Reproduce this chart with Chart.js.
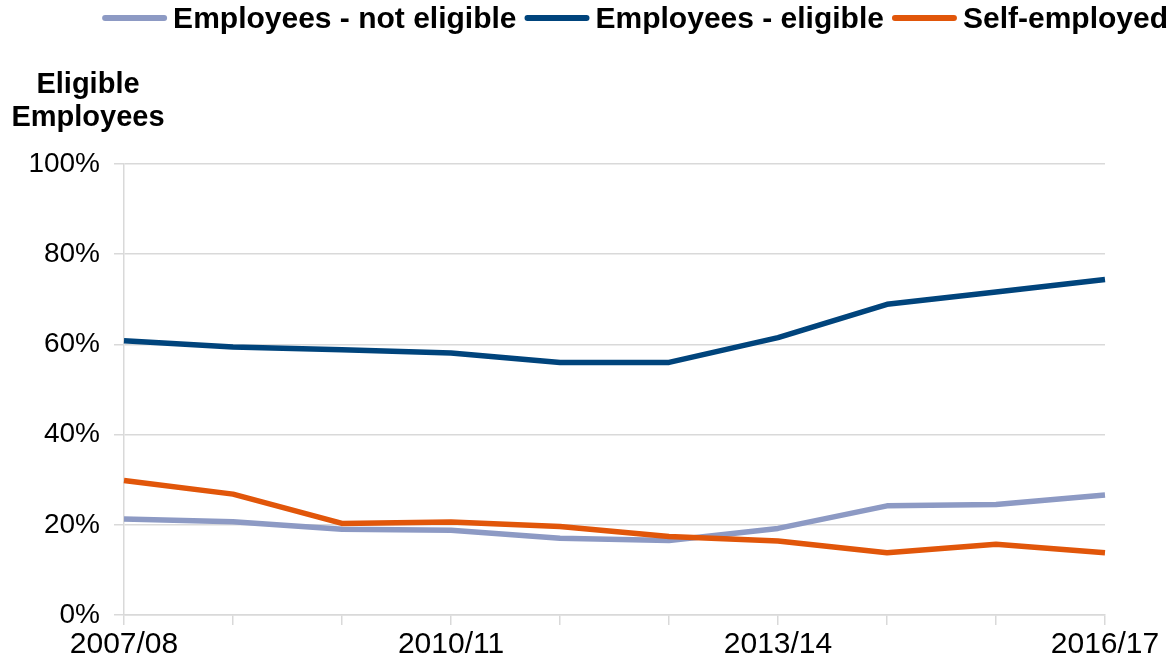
<!DOCTYPE html>
<html>
<head>
<meta charset="utf-8">
<script src="https://cdn.jsdelivr.net/npm/chart.js@4"></script>
<style>
  body { margin: 0; background: #fff; }
  #wrap { width: 1172px; height: 666px; }
</style>
</head>
<body>
<div id="wrap"><canvas id="myChart" width="1172" height="666"></canvas></div>
<script>
const years = ['2007/08', '2008/09', '2009/10', '2010/11', '2011/12', '2012/13', '2013/14', '2014/15', '2015/16', '2016/17'];
const notEligible = [21.3, 20.7, 19.0, 18.8, 17.0, 16.5, 19.2, 24.2, 24.5, 26.6];
const eligible = [60.8, 59.4, 58.8, 58.1, 56.0, 56.0, 61.5, 68.9, 71.6, 74.4];
const selfEmployed = [29.8, 26.8, 20.3, 20.6, 19.6, 17.4, 16.4, 13.8, 15.7, 13.8];
const yTicks = [0, 20, 40, 60, 80, 100];

const fontName = "'Liberation Sans', Arial, sans-serif";

// legend line + text, and the two-line axis heading top left
const extras = {
  id: 'extras',
  afterDraw(chart) {
    const ctx = chart.ctx;
    ctx.save();
    ctx.font = 'bold 30px ' + fontName;
    ctx.textBaseline = 'alphabetic';
    ctx.textAlign = 'left';
    const items = chart.data.datasets.map(d => ({ text: d.label, color: d.borderColor, w: ctx.measureText(d.label).width }));
    const lineLen = 65, gapIn = 6, gapOut = 8;
    let total = 0;
    items.forEach((it, i) => { total += lineLen + gapIn + it.w + (i < items.length - 1 ? gapOut : 0); });
    let x = 1168 - total;
    items.forEach(it => {
      ctx.strokeStyle = it.color;
      ctx.lineWidth = 6;
      ctx.lineCap = 'round';
      ctx.beginPath();
      ctx.moveTo(x + 3, 18);
      ctx.lineTo(x + lineLen - 3, 18);
      ctx.stroke();
      ctx.fillStyle = '#000';
      ctx.fillText(it.text, x + lineLen + gapIn, 28);
      x += lineLen + gapIn + it.w + gapOut;
    });

    ctx.font = 'bold 29px ' + fontName;
    ctx.textAlign = 'center';
    ctx.fillText('Eligible', 88, 93);
    ctx.fillText('Employees', 88, 126);
    ctx.restore();
  }
};

new Chart(document.getElementById('myChart'), {
  type: 'line',
  data: {
    labels: years,
    datasets: [
      { label: 'Employees - not eligible', data: notEligible, borderColor: '#8D9AC4', order: 2 },
      { label: 'Employees - eligible', data: eligible, borderColor: '#00447C', order: 1 },
      { label: 'Self-employed', data: selfEmployed, borderColor: '#E1560A', order: 0 }
    ].map(d => Object.assign(d, {
      borderWidth: 5.5,
      pointRadius: 0,
      tension: 0,
      fill: false,
      borderJoinStyle: 'round',
      backgroundColor: d.borderColor
    }))
  },
  options: {
    responsive: false,
    animation: false,
    layout: { padding: { top: 164, right: 67, left: 0, bottom: 0 } },
    plugins: {
      legend: { display: false },
      tooltip: { enabled: false }
    },
    scales: {
      x: {
        afterFit(s) { s.height = 51; },
        grid: { drawOnChartArea: false, drawTicks: true, tickLength: 10, color: '#d9d9d9', lineWidth: 1.5 },
        border: { color: '#d9d9d9', width: 1.5 },
        ticks: {
          autoSkip: false,
          maxRotation: 0,
          padding: 2,
          color: '#000',
          font: { family: fontName, size: 30 },
          callback: (v, i) => (i % 3 === 0 ? years[i] : '')
        }
      },
      y: {
        min: 0,
        max: 100,
        afterFit(s) { s.width = 124; },
        afterBuildTicks(s) { s.ticks = yTicks.map(v => ({ value: v })); },
        grid: { color: '#d9d9d9', lineWidth: 1.5, tickLength: 10 },
        border: { color: '#d9d9d9', width: 1.5 },
        ticks: {
          padding: 14,
          color: '#000',
          font: { family: fontName, size: 28 },
          callback: v => v + '%'
        }
      }
    }
  },
  plugins: [extras]
});
</script>
</body>
</html>
